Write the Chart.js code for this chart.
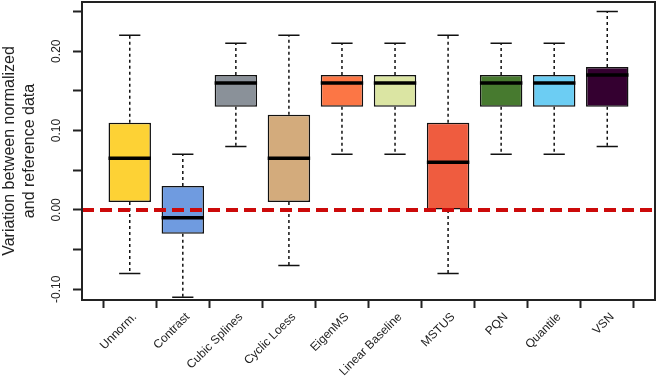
<!DOCTYPE html>
<html>
<head>
<meta charset="utf-8">
<script src="https://cdn.jsdelivr.net/npm/chart.js@4"></script>
<style>
  html, body { margin: 0; padding: 0; background: #fff; }
  #wrap { width: 661px; height: 376px; }
</style>
</head>
<body>
<div id="wrap"><canvas id="chart"></canvas></div>
<script>
/* Categories and box statistics. */
const methods = ["Unnorm.", "Contrast", "Cubic Splines", "Cyclic Loess", "EigenMS",
  "Linear Baseline", "MSTUS", "PQN", "Quantile", "VSN"]
const whiskerLow = [-0.08, -0.11, 0.08, -0.07, 0.07, 0.07, -0.08, 0.07, 0.07, 0.08]
const boxLow = [0.01, -0.03, 0.13, 0.01, 0.13, 0.13, 0.00, 0.13, 0.13, 0.13]
const medians = [0.065, -0.01, 0.16, 0.065, 0.16, 0.16, 0.06, 0.16, 0.16, 0.17]
const boxHigh = [0.11, 0.03, 0.17, 0.12, 0.17, 0.17, 0.11, 0.17, 0.17, 0.18]
const whiskerHigh = [0.22, 0.07, 0.21, 0.22, 0.21, 0.21, 0.22, 0.21, 0.21, 0.25]
const boxColors = ["#fdd235", "#6f9be0", "#8a9199", "#d3ab7c", "#fc7645",
  "#dbe5a3", "#ef5c3f", "#477a2f", "#6ccdf3", "#340030"]
const yTicks = [-0.10, -0.05, 0.00, 0.05, 0.10, 0.15, 0.20, 0.25]
const yLabels = [-0.10, 0.00, 0.10, 0.20]
const referenceLevel = 0

/* Whiskers, caps and medians drawn right after the boxes. */
const whiskerPlugin = {
  id: "whiskers",
  afterDatasetDraw(chart, args) {
    if (args.index !== 0) return
    const ctx = chart.ctx
    const x = chart.scales.x
    const y = chart.scales.y
    ctx.save()
    methods.forEach((m, i) => {
      const cx = x.getPixelForValue(i + 1)
      const capL = x.getPixelForValue(i + 1 - 0.2)
      const capR = x.getPixelForValue(i + 1 + 0.2)
      const boxL = x.getPixelForValue(i + 1 - 0.4)
      const boxR = x.getPixelForValue(i + 1 + 0.4)

      ctx.strokeStyle = "#111"
      ctx.lineWidth = 1.5
      ctx.setLineDash([3, 3])
      ctx.beginPath()
      ctx.moveTo(cx, y.getPixelForValue(boxHigh[i]))
      ctx.lineTo(cx, y.getPixelForValue(whiskerHigh[i]))
      ctx.moveTo(cx, y.getPixelForValue(boxLow[i]))
      ctx.lineTo(cx, y.getPixelForValue(whiskerLow[i]))
      ctx.stroke()

      ctx.setLineDash([])
      ctx.beginPath()
      ctx.moveTo(capL, y.getPixelForValue(whiskerHigh[i]))
      ctx.lineTo(capR, y.getPixelForValue(whiskerHigh[i]))
      ctx.moveTo(capL, y.getPixelForValue(whiskerLow[i]))
      ctx.lineTo(capR, y.getPixelForValue(whiskerLow[i]))
      ctx.stroke()

      ctx.lineWidth = 3.5
      ctx.strokeStyle = "#000"
      ctx.beginPath()
      ctx.moveTo(boxL, y.getPixelForValue(medians[i]))
      ctx.lineTo(boxR, y.getPixelForValue(medians[i]))
      ctx.stroke()
    })
    ctx.restore()
  },
  afterDraw(chart) {
    const ctx = chart.ctx
    const a = chart.chartArea
    const y = chart.scales.y
    ctx.save()
    /* Frame round the plot area. */
    ctx.strokeStyle = "#222"
    ctx.lineWidth = 2
    ctx.strokeRect(a.left, a.top, a.right - a.left, a.bottom - a.top)
    /* Vertical y tick labels. */
    ctx.fillStyle = "#222"
    ctx.font = "12px 'Liberation Sans', Arial, sans-serif"
    ctx.textAlign = "center"
    ctx.textBaseline = "middle"
    yLabels.forEach(v => {
      ctx.save()
      ctx.translate(57, y.getPixelForValue(v))
      ctx.rotate(-Math.PI / 2)
      ctx.fillText(v.toFixed(2), 0, 0)
      ctx.restore()
    })
    ctx.restore()
  }
}

const ctx = document.getElementById("chart").getContext("2d")
const chart = new Chart(ctx, {
  type: "bar",
  data: {
    datasets: [{
      type: "bar",
      data: methods.map((m, i) => ({ x: i + 1, y: [boxLow[i], boxHigh[i]] })),
      backgroundColor: boxColors,
      borderColor: "#111",
      borderWidth: 1.5,
      borderSkipped: false,
      categoryPercentage: 1,
      barPercentage: 0.8,
      order: 2
    }, {
      type: "line",
      data: [{ x: 0.1, y: referenceLevel }, { x: 10.9, y: referenceLevel }],
      borderColor: "#cc0a0a",
      borderWidth: 4,
      borderDash: [12, 6],
      pointRadius: 0,
      order: 1
    }]
  },
  options: {
    responsive: true,
    maintainAspectRatio: false,
    animation: false,
    layout: { padding: { top: 2, right: 6, left: 0, bottom: 0 } },
    plugins: {
      legend: { display: false },
      tooltip: { enabled: false }
    },
    scales: {
      x: {
        type: "linear",
        min: 0.1,
        max: 10.9,
        offset: false,
        afterBuildTicks: scale => {
          scale.ticks = methods.map((m, i) => ({ value: i + 1 }))
        },
        afterFit: scale => { scale.height = 76 },
        grid: {
          drawOnChartArea: false,
          drawTicks: true,
          tickLength: 8,
          tickWidth: 2,
          tickColor: "#222"
        },
        border: { display: false },
        ticks: {
          autoSkip: false,
          minRotation: 45,
          maxRotation: 45,
          padding: 2,
          labelOffset: 5,
          color: "#222",
          font: { family: "'Liberation Sans', Arial, sans-serif", size: 12 },
          callback: value => methods[value - 1]
        }
      },
      y: {
        min: -0.1135,
        max: 0.262,
        afterBuildTicks: scale => {
          scale.ticks = yTicks.map(v => ({ value: v }))
        },
        afterFit: scale => { scale.width = 82 },
        grid: {
          drawOnChartArea: false,
          drawTicks: true,
          tickLength: 9,
          tickWidth: 2,
          tickColor: "#222"
        },
        border: { display: false },
        ticks: { display: false },
        title: {
          display: true,
          text: ["Variation between normalized", "and reference data"],
          color: "#222",
          padding: { top: 0, bottom: 0 },
          font: { family: "'Liberation Sans', Arial, sans-serif", size: 16, lineHeight: 1.25 }
        }
      }
    }
  },
  plugins: [whiskerPlugin]
})
</script>
</body>
</html>
